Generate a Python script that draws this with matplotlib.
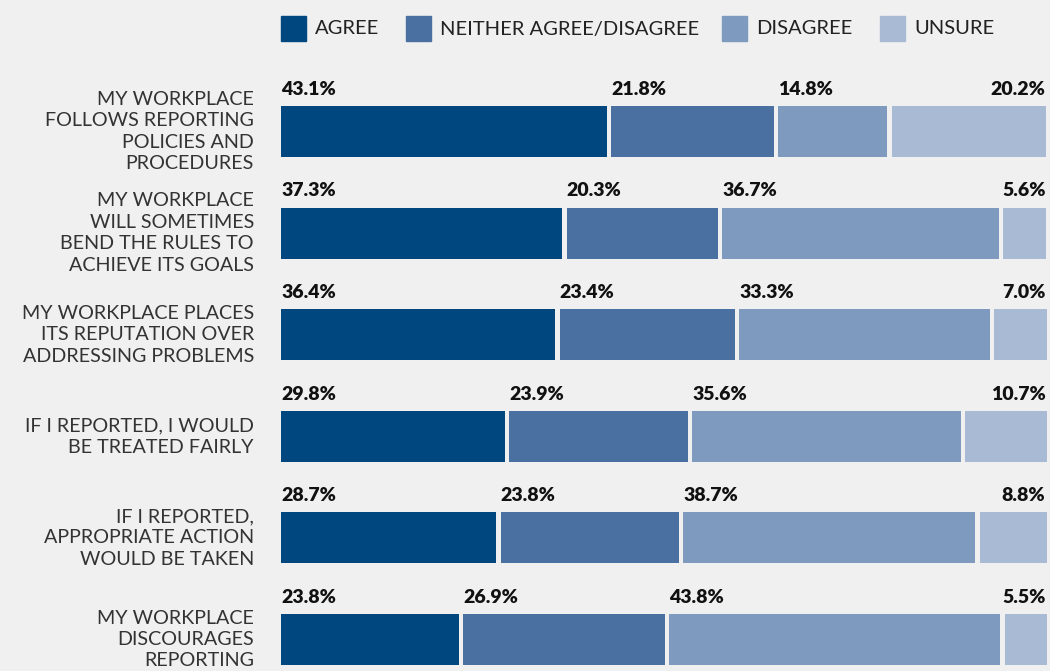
import matplotlib.pyplot as plt
from matplotlib.patches import Rectangle
from matplotlib.transforms import blended_transform_factory
import numpy as np

plt.rcParams['font.family'] = ['Lato', 'DejaVu Sans']

# survey statements and response shares (%)
statements = [
    "MY WORKPLACE\nFOLLOWS REPORTING\nPOLICIES AND\nPROCEDURES",
    "MY WORKPLACE\nWILL SOMETIMES\nBEND THE RULES TO\nACHIEVE ITS GOALS",
    "MY WORKPLACE PLACES\nITS REPUTATION OVER\nADDRESSING PROBLEMS",
    "IF I REPORTED, I WOULD\nBE TREATED FAIRLY",
    "IF I REPORTED,\nAPPROPRIATE ACTION\nWOULD BE TAKEN",
    "MY WORKPLACE\nDISCOURAGES\nREPORTING",
]
responses = ["AGREE", "NEITHER AGREE/DISAGREE", "DISAGREE", "UNSURE"]
agree = [43.1, 37.3, 36.4, 29.8, 28.7, 23.8]
neither = [21.8, 20.3, 23.4, 23.9, 23.8, 26.9]
disagree = [14.8, 36.7, 33.3, 35.6, 38.7, 43.8]
unsure = [20.2, 5.6, 7.0, 10.7, 8.8, 5.5]

colors = ["#00467f", "#4a6fa1", "#7f9abf", "#a9bad5"]
bg = "#f0f0f0"

W, H = 1050, 671
fig = plt.figure(figsize=(W / 100, H / 100), dpi=100, facecolor=bg)

# axes placed so each row is ~101.6 px tall, bars 51 px
row_px = 101.6
top_px = 131.5 - row_px / 2
left_px, right_px = 281, 1047
ax = fig.add_axes([left_px / W, 1 - (top_px + 6 * row_px) / H,
                   (right_px - left_px) / W, 6 * row_px / H])
ax.set_facecolor(bg)
ax.set_xlim(0, 100)
ax.set_ylim(5.5, -0.5)
ax.axis('off')

series = [agree, neither, disagree, unsure]
y = np.arange(len(statements))
bar_h = 51 / row_px
gap = 4.5 / ((right_px - left_px) / 100)

left = np.zeros(len(statements))
for k, vals in enumerate(series):
    vals = np.array(vals)
    last = k == len(series) - 1
    widths = vals if last else vals - gap
    ax.barh(y, widths, left=left, height=bar_h, color=colors[k], linewidth=0)
    for i, v in enumerate(vals):
        ty = i - bar_h / 2 - 0.11
        if last:
            ax.text(99.8, ty, f"{v:.1f}%", ha='right', va='baseline',
                    fontsize=14, fontweight='heavy', color='#111111')
        else:
            ax.text(left[i], ty, f"{v:.1f}%", ha='left', va='baseline',
                    fontsize=14, fontweight='heavy', color='#111111')
    left = left + vals

# statement labels to the left of the bars
trans = blended_transform_factory(ax.transAxes, ax.transData)
for i, s in enumerate(statements):
    ax.text(-27 / (right_px - left_px), i, s, transform=trans, ha='right',
            va='center', fontsize=14.2, color='#333333', linespacing=1.32)

# legend row across the top
legend_x = [281, 406, 722, 880]
sq = 25
for x, lab, c in zip(legend_x, responses, colors):
    fig.patches.append(Rectangle((x / W, 1 - 41 / H), sq / W, sq / H,
                                 transform=fig.transFigure, color=c))
    fig.text((x + sq + 9) / W, 1 - 29 / H, lab, ha='left', va='center',
             fontsize=14.5, color='#222222')

fig.savefig("out.png", dpi=100, facecolor=bg)
